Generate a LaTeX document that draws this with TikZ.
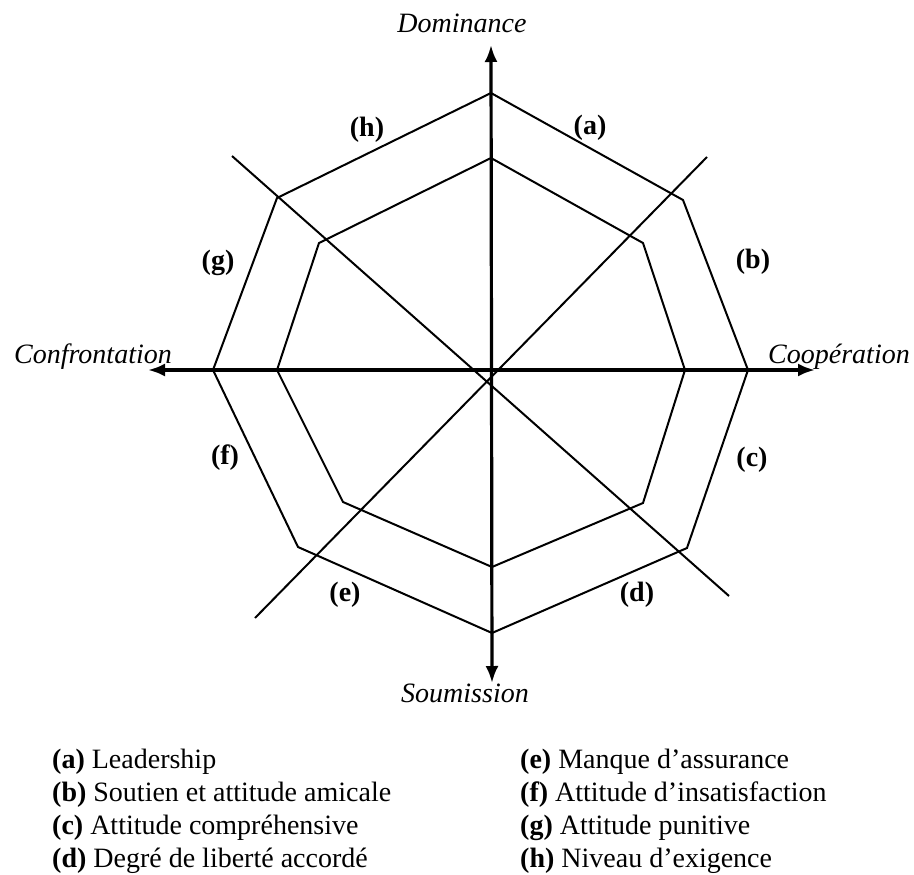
\documentclass[tikz,border=0pt]{standalone}
\usepackage{fontspec}
\setmainfont{Liberation Serif}
\usetikzlibrary{arrows.meta}
\tikzset{
  axisline/.style={line width=3.2pt,{Latex[length=17pt,width=13pt]}-{Latex[length=17pt,width=13pt]}},
  octline/.style={line width=2pt,line join=miter},
  diagline/.style={line width=2pt},
  axislabel/.style={font=\fontsize{28}{30}\selectfont\itshape,inner sep=0pt,anchor=base},
  sector/.style={font=\fontsize{28}{30}\selectfont\bfseries,inner sep=0pt},
  legend/.style={font=\fontsize{28}{32}\selectfont,inner sep=0pt,anchor=base west}
}
\begin{document}
\begin{tikzpicture}[x=1pt,y=-1pt]
\useasboundingbox (0,0) rectangle (914,875);
% centre and axis ends
\coordinate (O) at (491,370);
\coordinate (Ntip) at (491,45);
\coordinate (Stip) at (492,683);
\coordinate (Wtip) at (148,370);
\coordinate (Etip) at (815,370);
% outer octagon
\coordinate (o1) at (491,93);
\coordinate (o2) at (683,200);
\coordinate (o3) at (748,370);
\coordinate (o4) at (687,548);
\coordinate (o5) at (492,633);
\coordinate (o6) at (298,547);
\coordinate (o7) at (213,370);
\coordinate (o8) at (277,198);
% inner octagon
\coordinate (i1) at (491,158);
\coordinate (i2) at (643,243);
\coordinate (i3) at (685,370);
\coordinate (i4) at (643,503);
\coordinate (i5) at (492,567);
\coordinate (i6) at (343,502);
\coordinate (i7) at (277,370);
\coordinate (i8) at (319,243);
% diagonal ends
\coordinate (dA) at (707,157);
\coordinate (dE) at (255,618);
\coordinate (dH) at (232,156);
\coordinate (dD) at (729,596);

\draw[octline] (o1)--(o2)--(o3)--(o4)--(o5)--(o6)--(o7)--(o8)--cycle;
\draw[octline] (i1)--(i2)--(i3)--(i4)--(i5)--(i6)--(i7)--(i8)--cycle;
\draw[diagline] (dA)--(dE);
\draw[diagline] (dH)--(dD);
\draw[axisline] (Stip)--(Ntip);
\draw[axisline] (Wtip)--(Etip);

% axis labels
\node[axislabel] (dom) at (462,33) {Dominance};
\node[axislabel] (soum) at (465,702) {Soumission};
\node[axislabel] (coop) at (839,363) {Coopération};
\node[axislabel] (conf) at (93,363) {Confrontation};

% sector labels
\node[sector] (la) at (590,128) {(a)};
\node[sector] (lb) at (753,262) {(b)};
\node[sector] (lc) at (752,460) {(c)};
\node[sector] (ld) at (637,595) {(d)};
\node[sector] (le) at (345,595) {(e)};
\node[sector] (lf) at (225,458) {(f)};
\node[sector] (lg) at (218,263) {(g)};
\node[sector] (lh) at (367,130) {(h)};

% legend
\node[legend] (ka) at (52,768) {\textbf{(a)} Leadership};
\node[legend] (kb) at (52,801) {\textbf{(b)} Soutien et attitude amicale};
\node[legend] (kc) at (52,834) {\textbf{(c)} Attitude compréhensive};
\node[legend] (kd) at (52,867) {\textbf{(d)} Degré de liberté accordé};
\node[legend] (ke) at (520,768) {\textbf{(e)} Manque d’assurance};
\node[legend] (kf) at (520,801) {\textbf{(f)} Attitude d’insatisfaction};
\node[legend] (kg) at (520,834) {\textbf{(g)} Attitude punitive};
\node[legend] (kh) at (520,867) {\textbf{(h)} Niveau d’exigence};
\end{tikzpicture}
\end{document}
